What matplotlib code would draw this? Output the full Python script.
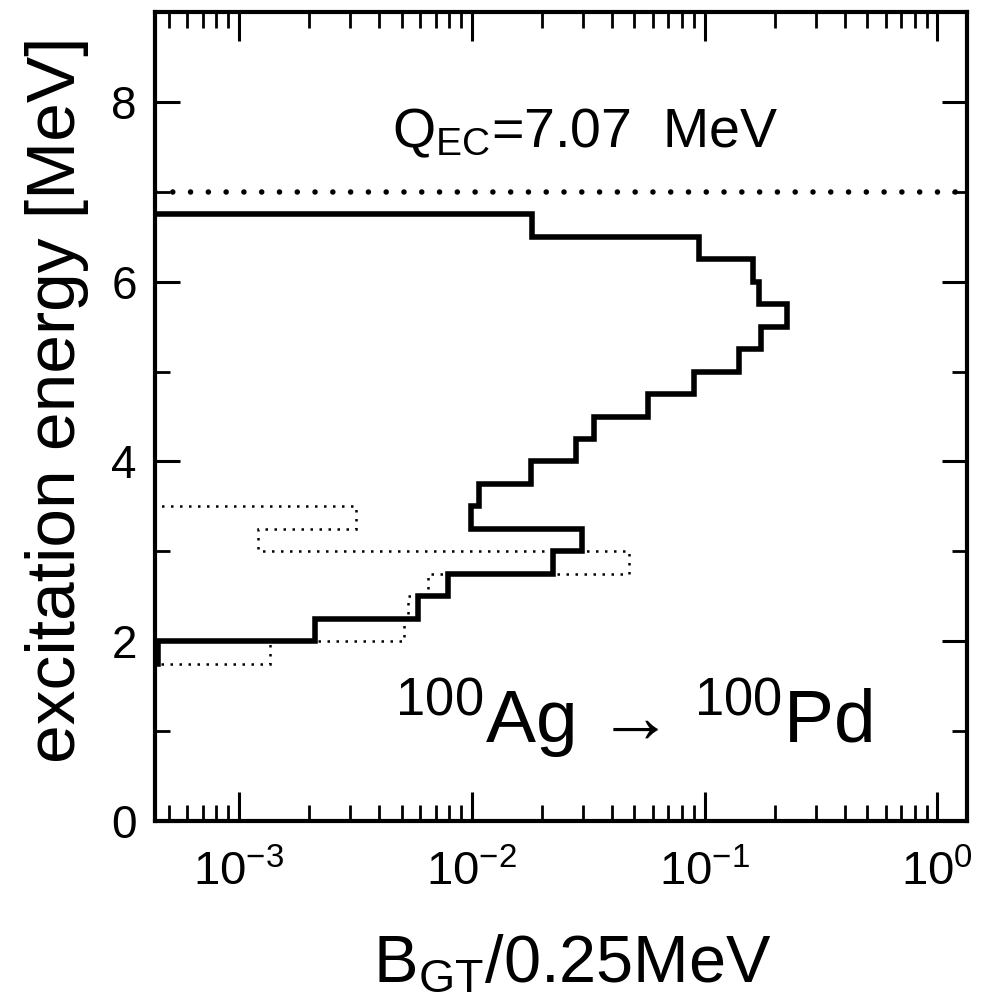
import matplotlib
matplotlib.use("Agg")
import matplotlib.pyplot as plt
from matplotlib.ticker import FixedLocator, NullFormatter, LogLocator
import numpy as np

# ---------------- data ----------------
# energy bin edges (MeV), 0.25 MeV bins
energy_edges = [1.50, 1.75, 2.00, 2.25, 2.50, 2.75, 3.00, 3.25, 3.50, 3.75,
                4.00, 4.25, 4.50, 4.75, 5.00, 5.25, 5.50, 5.75, 6.00, 6.25,
                6.50, 6.75, 7.00]
# B_GT per 0.25 MeV, solid histogram (one value per bin, bottom to top)
bgt_solid = [1e-6, 4.5e-4, 0.00212, 0.0059, 0.0079, 0.0223, 0.0297, 0.0099, 0.0108,
             0.0180, 0.0282, 0.0337, 0.0573, 0.0897, 0.141, 0.174, 0.227,
             0.171, 0.162, 0.0948, 0.0182, 1e-6]
# dotted histogram edges and values
dotted_edges = [1.50, 1.75, 2.00, 2.25, 2.50, 2.75, 3.00, 3.25, 3.50, 3.75]
bgt_dotted = [1e-6, 0.00136, 0.00514, 0.00533, 0.0065, 0.0473, 0.00121, 0.0032, 1e-6]
q_ec = 7.0          # Q_EC line position (MeV)

xlim = (4.37e-4, 1.34)
ylim = (0, 9)
y_major = [0, 2, 4, 6, 8]
y_minor = [1, 3, 5, 7]

# ---------------- fonts ----------------
fam = 'Liberation Sans'
plt.rcParams['font.family'] = [fam, 'DejaVu Sans']
plt.rcParams['mathtext.fontset'] = 'custom'
plt.rcParams['mathtext.rm'] = fam
plt.rcParams['mathtext.it'] = fam
plt.rcParams['mathtext.bf'] = fam
plt.rcParams['mathtext.default'] = 'rm'
plt.rcParams['axes.unicode_minus'] = False

W, H = 981, 1002
fig = plt.figure(figsize=(W / 100, H / 100), dpi=100)
ax = fig.add_axes([155 / W, 1 - 821 / H, (967 - 155) / W, (821 - 12) / H])

ax.set_xscale('log')
ax.set_xlim(*xlim)
ax.set_ylim(*ylim)

# histograms
ax.stairs(bgt_dotted, dotted_edges, orientation='horizontal', baseline=None,
          color='black', linewidth=1.8, linestyle=(0, (1, 2.6)))
ax.stairs(bgt_solid, energy_edges, orientation='horizontal', baseline=None,
          color='black', linewidth=4.0)

# Q_EC line
ax.axhline(q_ec, color='black', linewidth=4.0, linestyle=(0, (0.001, 3.2)),
           dash_capstyle='round')

# texts
ax.text(0.292, 0.833, r'Q$_{\rm EC}$=7.07  MeV', transform=ax.transAxes,
        fontsize=40, ha='left', va='baseline')
ax.text(0.296, 0.096, r'$^{100}$Ag → $^{100}$Pd', transform=ax.transAxes,
        fontsize=54, ha='left', va='baseline')

fig.text(57 / W, 1 - 400 / H, 'excitation energy [MeV]', rotation=90,
         ha='center', va='center', fontsize=50)
fig.text(572 / W, 1 - 982 / H, r'B$_{\rm GT}$/0.25MeV', ha='center', va='baseline',
         fontsize=48)

# ticks
ax.yaxis.set_major_locator(FixedLocator(y_major))
ax.yaxis.set_minor_locator(FixedLocator(y_minor))
ax.xaxis.set_major_locator(LogLocator(base=10, numticks=10))
ax.xaxis.set_minor_locator(LogLocator(base=10, subs=np.arange(2, 10), numticks=20))
ax.xaxis.set_minor_formatter(NullFormatter())

ax.tick_params(axis='x', which='major', direction='in', top=True, bottom=True,
               length=21, width=2.2, labelsize=34, pad=21)
ax.tick_params(axis='x', which='minor', direction='in', top=True, bottom=True,
               length=11.5, width=2.0)
ax.tick_params(axis='y', which='major', direction='in', left=True, right=True,
               length=18, width=2.2, labelsize=33, pad=13)
ax.tick_params(axis='y', which='minor', direction='in', left=True, right=True,
               length=11, width=2.0)

for s in ax.spines.values():
    s.set_linewidth(3.0)

fig.savefig('out.png', dpi=100)
